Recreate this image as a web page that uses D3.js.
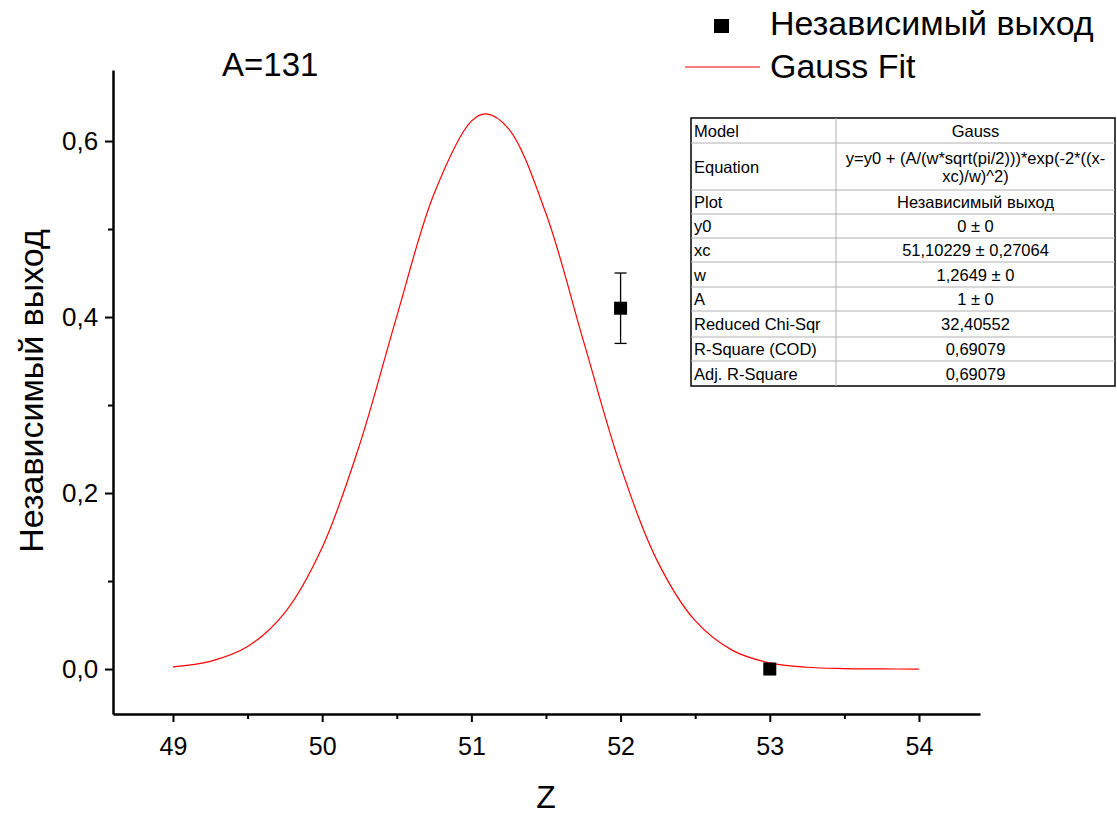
<!DOCTYPE html>
<html>
<head>
<meta charset="utf-8">
<script src="https://cdn.jsdelivr.net/npm/d3@7"></script>
<style>
  body { margin: 0; background: #fff; }
  svg { font-family: "Liberation Sans", Arial, sans-serif; }
</style>
</head>
<body>
<svg width="1117" height="816"></svg>
<script>
// data
const fitX = [49, 49.25, 49.5, 49.75, 50, 50.25, 50.5, 50.75, 51, 51.1, 51.25, 51.5, 51.75, 52, 52.25, 52.5, 52.75, 53, 53.25, 53.5, 53.75, 54];
const fitY = [0.0025, 0.0087, 0.0255, 0.0642, 0.1381, 0.2544, 0.4008, 0.5401, 0.6226, 0.6308, 0.6138, 0.5176, 0.3734, 0.2303, 0.1215, 0.0549, 0.0212, 0.0070, 0.0020, 0.0005, 0.0001, 0.0];
const pointX = [52, 53];
const pointY = [0.41, 0.0];
const pointErr = [0.04, 0];
const xTicks = [49, 50, 51, 52, 53, 54];
const yTicks = [0, 0.2, 0.4, 0.6];
const tableLabels = ["Model", "Equation", "Plot", "y0", "xc", "w", "A", "Reduced Chi-Sqr", "R-Square (COD)", "Adj. R-Square"];
const tableValues = [["Gauss"], ["y=y0 + (A/(w*sqrt(pi/2)))*exp(-2*((x-", "xc)/w)^2)"], ["Независимый выход"], ["0 ± 0"], ["51,10229 ± 0,27064"], ["1,2649 ± 0"], ["1 ± 0"], ["32,40552"], ["0,69079"], ["0,69079"]];
const seriesNames = ["Независимый выход", "Gauss Fit"];

const svg = d3.select("svg");
const ru = d3.formatLocale({ decimal: ",", thousands: " ", grouping: [3], currency: ["", ""] });
const fmt1 = ru.format(".1f");

const x = d3.scaleLinear().domain([48.598, 54.409]).range([113, 980]);
const y = d3.scaleLinear().domain([-0.0511, 0.6807]).range([714, 70]);

// axes
const xAxis = svg.append("g").attr("transform", "translate(0,714)");
xAxis.call(d3.axisBottom(x).tickValues(xTicks).tickSize(8).tickSizeOuter(0).tickFormat(d3.format("d")));
const xMinor = svg.append("g").attr("transform", "translate(0,714)");
xMinor.call(d3.axisBottom(x).tickValues([49.5, 50.5, 51.5, 52.5, 53.5]).tickSize(5).tickSizeOuter(0).tickFormat(""));
xMinor.select(".domain").remove();

const yAxis = svg.append("g").attr("transform", "translate(113,0)");
yAxis.call(d3.axisLeft(y).tickValues(yTicks).tickSize(8).tickSizeOuter(0).tickFormat(fmt1));
const yMinor = svg.append("g").attr("transform", "translate(113,0)");
yMinor.call(d3.axisLeft(y).tickValues([0.1, 0.3, 0.5]).tickSize(5).tickSizeOuter(0).tickFormat(""));
yMinor.select(".domain").remove();

svg.selectAll(".domain").attr("stroke", "#000").attr("stroke-width", 2.5);
svg.selectAll(".tick line").attr("stroke", "#000").attr("stroke-width", 2);
xAxis.selectAll("text").attr("font-size", 25).attr("fill", "#000").attr("dy", "1.2em")
  .style("font-family", "Liberation Sans, Arial, sans-serif");
yAxis.selectAll("text").attr("font-size", 26).attr("fill", "#000").attr("dx", "-0.15em")
  .style("font-family", "Liberation Sans, Arial, sans-serif");

// axis titles
svg.append("text").text("Z").attr("x", x(51.5)).attr("y", 808)
  .attr("text-anchor", "middle").attr("font-size", 32).attr("fill", "#000");
svg.append("text").text("Независимый выход")
  .attr("transform", "translate(43,391) rotate(-90)")
  .attr("text-anchor", "middle").attr("font-size", 34).attr("fill", "#000");
svg.append("text").text("A=131").attr("x", 222).attr("y", 76)
  .attr("font-size", 33).attr("fill", "#000");

// fit curve
const fitData = fitX.map((v, i) => [v, fitY[i]]);
svg.append("path").datum(fitData)
  .attr("d", d3.line().x(d => x(d[0])).y(d => y(d[1])).curve(d3.curveCatmullRom))
  .attr("fill", "none").attr("stroke", "#ff0000").attr("stroke-width", 1.2);

// points with error bars
const pts = pointX.map((v, i) => ({ x: v, y: pointY[i], e: pointErr[i] }));
const eb = svg.append("g");
pts.filter(d => d.e > 0).forEach(d => {
  eb.append("line").attr("x1", x(d.x)).attr("x2", x(d.x))
    .attr("y1", y(d.y + d.e)).attr("y2", y(d.y - d.e)).attr("stroke", "#000").attr("stroke-width", 1.3);
  [d.y + d.e, d.y - d.e].forEach(v => {
    eb.append("line").attr("x1", x(d.x) - 6).attr("x2", x(d.x) + 6)
      .attr("y1", y(v)).attr("y2", y(v)).attr("stroke", "#000").attr("stroke-width", 1.3);
  });
});
svg.append("g").selectAll("rect").data(pts).join("rect")
  .attr("x", d => x(d.x) - 6.5).attr("y", d => y(d.y) - 6.5)
  .attr("width", 13).attr("height", 13).attr("fill", "#000");

// legend
const lg = svg.append("g");
lg.append("rect").attr("x", 714).attr("y", 19).attr("width", 15).attr("height", 14).attr("fill", "#000");
lg.append("text").text(seriesNames[0]).attr("x", 770).attr("y", 35).attr("font-size", 34).attr("fill", "#000");
lg.append("line").attr("x1", 685).attr("x2", 760).attr("y1", 67).attr("y2", 67)
  .attr("stroke", "#ff0000").attr("stroke-width", 1.2);
lg.append("text").text(seriesNames[1]).attr("x", 770).attr("y", 78).attr("font-size", 34).attr("fill", "#000");

// parameter table
const rowH = [25, 47, 24, 24, 24, 25, 24, 26, 24, 25];
const tx0 = 691, tx1 = 836, tx2 = 1115, ty0 = 118;
let yy = ty0;
const tbl = svg.append("g").attr("font-size", 16.5).attr("fill", "#000");
tbl.append("rect").attr("x", tx0).attr("y", ty0).attr("width", tx2 - tx0)
  .attr("height", d3.sum(rowH)).attr("fill", "#fff").attr("stroke", "#000").attr("stroke-width", 1.5);
tableLabels.forEach((lab, i) => {
  const h = rowH[i];
  if (i > 0) {
    tbl.append("line").attr("x1", tx0).attr("x2", tx2).attr("y1", yy).attr("y2", yy)
      .attr("stroke", "#b0b0b0").attr("stroke-width", 1);
  }
  tbl.append("text").text(lab).attr("x", tx0 + 3).attr("y", yy + h / 2 + 6).attr("fill", "#000");
  const vals = tableValues[i];
  vals.forEach((v, j) => {
    const cy = yy + h / 2 + 6 + (j - (vals.length - 1) / 2) * 18;
    tbl.append("text").text(v).attr("x", (tx1 + tx2) / 2).attr("y", cy)
      .attr("text-anchor", "middle").attr("fill", "#000");
  });
  yy += h;
});
tbl.append("line").attr("x1", tx1).attr("x2", tx1).attr("y1", ty0).attr("y2", yy)
  .attr("stroke", "#b0b0b0").attr("stroke-width", 1);
</script>
</body>
</html>
